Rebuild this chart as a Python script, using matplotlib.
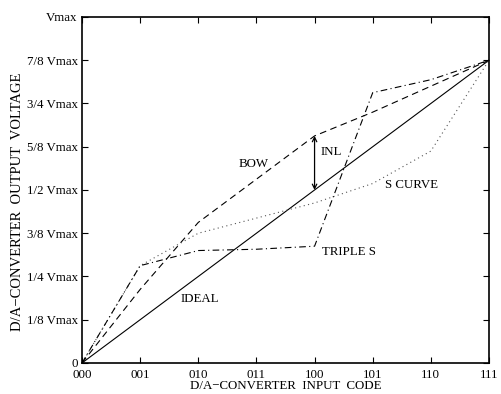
import matplotlib
matplotlib.use('Agg')
import matplotlib.pyplot as plt

plt.rcParams['font.family'] = ['Liberation Serif', 'DejaVu Serif']
plt.rcParams['font.size'] = 9.3

# input codes (x) and output voltage in units of Vmax/8 (y)
codes = [0, 1, 2, 3, 4, 5, 6, 7]
code_labels = ['000', '001', '010', '011', '100', '101', '110', '111']
volt_labels = ['0', '1/8 Vmax', '1/4 Vmax', '3/8 Vmax', '1/2 Vmax',
               '5/8 Vmax', '3/4 Vmax', '7/8 Vmax', 'Vmax']

ideal = [0, 1, 2, 3, 4, 5, 6, 7]
bow = [0, 1.7, 3.25, 4.25, 5.25, 5.8, 6.4, 7]
s_curve = [0, 2.25, 3.0, 3.35, 3.7, 4.15, 4.9, 7]
triple_s = [0, 2.25, 2.6, 2.63, 2.7, 6.25, 6.55, 7]

# INL marker at code 100
inl_code = 4

fig = plt.figure(figsize=(5.02, 3.94), dpi=100)
ax = fig.add_axes([0.1633, 0.0787, 0.8108, 0.8782])

ax.plot(codes, ideal, color='k', lw=0.8, ls='-')
ax.plot(codes, bow, color='k', lw=0.8, ls=(0, (6, 4)))
ax.plot(codes, s_curve, color='#555555', lw=0.8, ls=(0, (1, 3)))
ax.plot(codes, triple_s, color='k', lw=0.8, ls=(0, (6, 3, 1, 3)))

ax.annotate('', xy=(inl_code, bow[inl_code]), xytext=(inl_code, ideal[inl_code]),
            arrowprops=dict(arrowstyle='<->', lw=0.9, color='k',
                            shrinkA=0, shrinkB=0, mutation_scale=8))

ax.text(4.1, 4.88, 'INL', va='center', ha='left')
ax.text(2.7, 4.6, 'BOW', va='center', ha='left')
ax.text(5.22, 4.12, 'S CURVE', va='center', ha='left')
ax.text(4.12, 2.57, 'TRIPLE S', va='center', ha='left')
ax.text(1.69, 1.48, 'IDEAL', va='center', ha='left')

ax.set_xlim(0, 7)
ax.set_ylim(0, 8)
ax.set_xticks(codes)
ax.set_xticklabels(code_labels)
ax.set_yticks(range(9))
ax.set_yticklabels(volt_labels)
ax.tick_params(direction='in', top=True, right=True, length=4, width=0.8, pad=3)
ax.tick_params(axis='x', pad=4.5)
for s in ax.spines.values():
    s.set_linewidth(1.2)
# lift the "0" label slightly so it clears the "000" below it
ax.get_yticklabels()[0].set_verticalalignment('center_baseline')

ax.set_xlabel('D/A\u2212CONVERTER  INPUT  CODE')
ax.set_ylabel('D/A\u2212CONVERTER  OUTPUT  VOLTAGE', fontsize=10.5)
ax.xaxis.set_label_coords(0.5, -0.05)
ax.yaxis.set_label_coords(-0.142, 0.465)

fig.savefig('out.png', dpi=100)
